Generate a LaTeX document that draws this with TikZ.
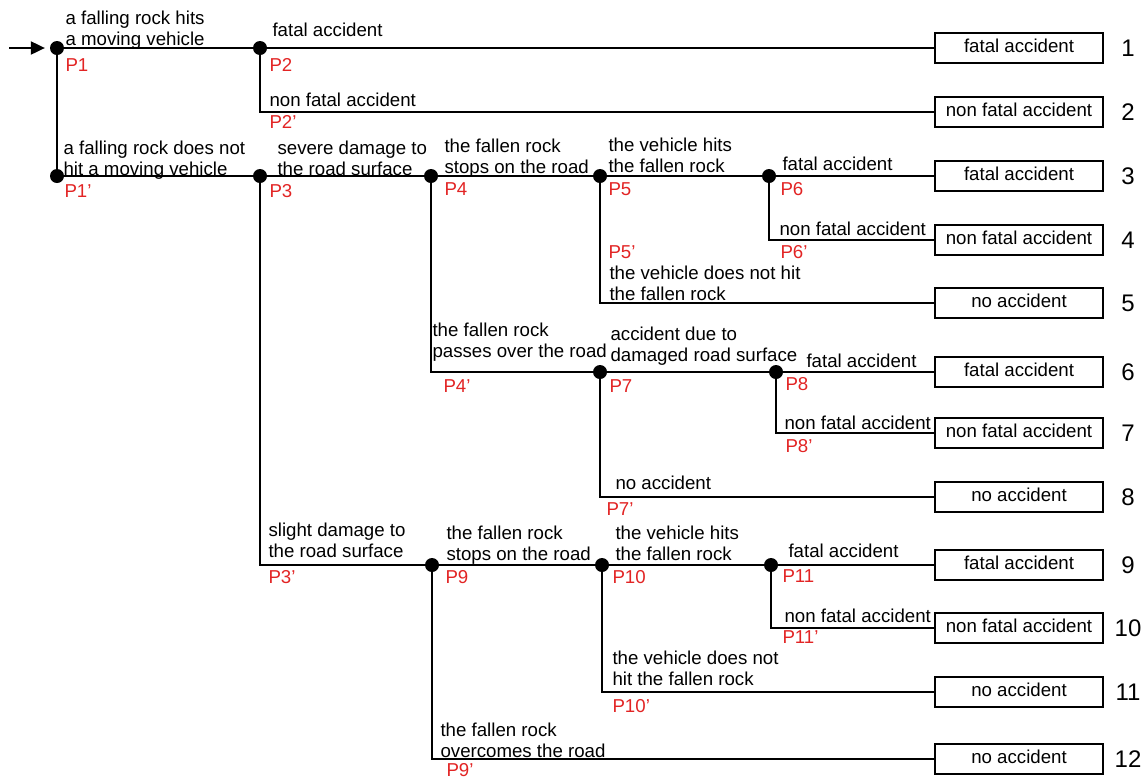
\documentclass[tikz,border=0pt]{standalone}
\usepackage{fontspec}
\setmainfont{Liberation Sans}
\usepackage{xcolor}
\usepackage{tikz}
\usetikzlibrary{arrows.meta}
\definecolor{lblred}{RGB}{226,36,36}

\begin{document}
\begin{tikzpicture}[x=0.75pt,y=-0.75pt,line width=0.8pt,
		dot/.style={circle,fill=black,inner sep=0pt,minimum size=10.5pt},
		txt/.style={anchor=base west,align=left,inner sep=0pt,font=\fontsize{14}{15.5}\selectfont},
		plbl/.style={anchor=base west,inner sep=0pt,text=lblred,font=\fontsize{14}{15.5}\selectfont},
		outbox/.style={draw,minimum width=126pt,minimum height=22.5pt,inner sep=0pt,text height=10pt,text depth=3pt,font=\fontsize{14}{15.5}\selectfont},
		num/.style={font=\fontsize{18}{20}\selectfont}]
		\useasboundingbox (0,0) rectangle (1148,779);
		
		% junctions
		\coordinate (start) at (9,48);
		\node[dot] (P1) at (57,48) {};
		\node[dot] (P2) at (260,48) {};
		\coordinate (P2b) at (260,112);
		\node[dot] (P1b) at (57,176) {};
		\node[dot] (P3) at (260,176) {};
		\node[dot] (P4) at (431,176) {};
		\node[dot] (P5) at (600,176) {};
		\node[dot] (P6) at (769,176) {};
		\coordinate (P6b) at (769,240);
		\coordinate (P5b) at (600,303);
		\coordinate (P4b) at (431,372);
		\node[dot] (P7) at (600,372) {};
		\node[dot] (P8) at (776,372) {};
		\coordinate (P8b) at (776,433);
		\coordinate (P7b) at (600,497);
		\coordinate (P3b) at (260,565);
		\node[dot] (P9) at (432,565) {};
		\node[dot] (P10) at (602,565) {};
		\node[dot] (P11) at (771,565) {};
		\coordinate (P11b) at (771,628);
		\coordinate (P10b) at (602,692);
		\coordinate (P9b) at (432,759);
		
		% outcomes
		\foreach \i/\y/\t in {1/48/fatal accident, 2/112/non fatal accident, 3/176/fatal accident,
			4/240/non fatal accident, 5/303/no accident, 6/372/fatal accident, 7/433/non fatal accident,
			8/497/no accident, 9/565/fatal accident, 10/628/non fatal accident, 11/692/no accident,
			12/759/no accident}{
			\node[outbox] (b\i) at (1019,\y) {\t};
			\node[num] (n\i) at (1128,\y) {\i};
		}
		
		% branches
		\draw[-{Triangle[length=10.5pt,width=10pt]},shorten >=3.5pt] (start) -- (P1);
		\draw (P1.center) -- (P2.center) -- (b1.west);
		\draw (P2.center) -- (P2b) -- (b2.west);
		\draw (P1.center) -- (P1b.center) -- (P3.center) -- (P4.center) -- (P5.center) -- (P6.center) -- (b3.west);
		\draw (P6.center) -- (P6b) -- (b4.west);
		\draw (P5.center) -- (P5b) -- (b5.west);
		\draw (P4.center) -- (P4b) -- (P7.center) -- (P8.center) -- (b6.west);
		\draw (P8.center) -- (P8b) -- (b7.west);
		\draw (P7.center) -- (P7b) -- (b8.west);
		\draw (P3.center) -- (P3b) -- (P9.center) -- (P10.center) -- (P11.center) -- (b9.west);
		\draw (P11.center) -- (P11b) -- (b10.west);
		\draw (P10.center) -- (P10b) -- (b11.west);
		\draw (P9.center) -- (P9b) -- (b12.west);
		
		% event texts
		\node[txt] (tP1) at (65,45) {a falling rock hits\\a moving vehicle};
		\node[txt] (tP2) at (272,36) {fatal accident};
		\node[txt] (tP2b) at (269,106) {non fatal accident};
		\node[txt] (tP1b) at (63,175) {a falling rock does not\\hit a moving vehicle};
		\node[txt] (tP3) at (277,175) {severe damage to\\the road surface};
		\node[txt] (tP4) at (444,173) {the fallen rock\\stops on the road};
		\node[txt] (tP5) at (608,172) {the vehicle hits\\the fallen rock};
		\node[txt] (tP6) at (782,170) {fatal accident};
		\node[txt] (tP6b) at (779,235) {non fatal accident};
		\node[txt] (tP5b) at (609,300) {the vehicle does not hit\\the fallen rock};
		\node[txt] (tP4b) at (432,357) {the fallen rock\\passes over the road};
		\node[txt] (tP7) at (610,361) {accident due to\\damaged road surface};
		\node[txt] (tP8) at (806,367) {fatal accident};
		\node[txt] (tP8b) at (784,429) {non fatal accident};
		\node[txt] (tP7b) at (615,489) {no accident};
		\node[txt] (tP3b) at (268,557) {slight damage to\\the road surface};
		\node[txt] (tP9) at (446,560) {the fallen rock\\stops on the road};
		\node[txt] (tP10) at (615,560) {the vehicle hits\\the fallen rock};
		\node[txt] (tP11) at (788,557) {fatal accident};
		\node[txt] (tP11b) at (784,622) {non fatal accident};
		\node[txt] (tP10b) at (612,685) {the vehicle does not\\hit the fallen rock};
		\node[txt] (tP9b) at (440,757) {the fallen rock\\overcomes the road};
		
		% point labels
		\node[plbl] (lP1) at (65,71) {P1};
		\node[plbl] (lP2) at (269,71) {P2};
		\node[plbl] (lP2b) at (269,128) {P2’};
		\node[plbl] (lP1b) at (64,197) {P1’};
		\node[plbl] (lP3) at (269,197) {P3};
		\node[plbl] (lP4) at (444,195) {P4};
		\node[plbl] (lP5) at (608,195) {P5};
		\node[plbl] (lP6) at (780,195) {P6};
		\node[plbl] (lP6b) at (780,258) {P6’};
		\node[plbl] (lP5b) at (608,258) {P5’};
		\node[plbl] (lP4b) at (443,392) {P4’};
		\node[plbl] (lP7) at (609,392) {P7};
		\node[plbl] (lP8) at (785,390) {P8};
		\node[plbl] (lP8b) at (785,452) {P8’};
		\node[plbl] (lP7b) at (606,515) {P7’};
		\node[plbl] (lP3b) at (268,583) {P3’};
		\node[plbl] (lP9) at (445,583) {P9};
		\node[plbl] (lP10) at (612,583) {P10};
		\node[plbl] (lP11) at (782,582) {P11};
		\node[plbl] (lP11b) at (782,643) {P11’};
		\node[plbl] (lP10b) at (612,712) {P10’};
		\node[plbl] (lP9b) at (446,776) {P9’};
	\end{tikzpicture}
\end{document}
